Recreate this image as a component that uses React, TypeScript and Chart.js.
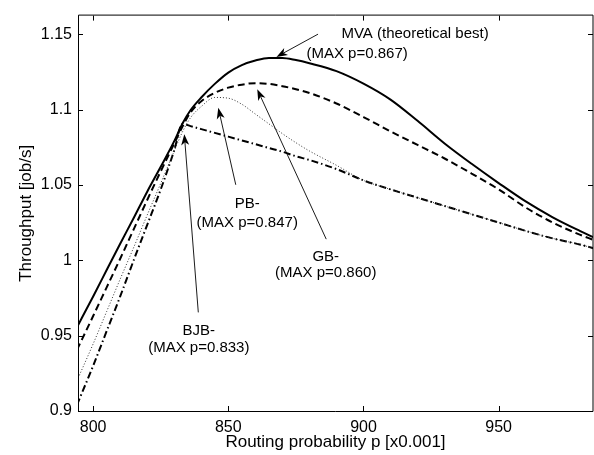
import { useEffect, useRef } from "react";
import { Chart, registerables } from "chart.js";

Chart.register(...registerables);

// ---- data ----
const xValues = [794, 800, 805, 810, 815, 820, 825, 830, 833, 836, 840, 845, 850, 855, 860, 865, 870, 875, 880, 890, 900, 910, 920, 930, 940, 950, 960, 970, 980, 985];
const mvaValues = [0.9555, 0.976, 0.9935, 1.011, 1.028, 1.0455, 1.062, 1.079, 1.0905, 1.0995, 1.108, 1.117, 1.1245, 1.1295, 1.1325, 1.1342, 1.1342, 1.1328, 1.1307, 1.1255, 1.1172, 1.1066, 1.0925, 1.0775, 1.064, 1.0512, 1.039, 1.0285, 1.0195, 1.0153];
const gbValues = [0.9405, 0.963, 0.982, 1.001, 1.0205, 1.04, 1.059, 1.0775, 1.0885, 1.098, 1.1055, 1.111, 1.1145, 1.1165, 1.1175, 1.117, 1.1155, 1.1135, 1.111, 1.104, 1.095, 1.0855, 1.0765, 1.0675, 1.0575, 1.047, 1.035, 1.025, 1.017, 1.0135];
const pbValues = [0.92, 0.9445, 0.966, 0.9875, 1.0085, 1.03, 1.051, 1.0725, 1.085, 1.0945, 1.102, 1.108, 1.1075, 1.1035, 1.097, 1.0905, 1.084, 1.078, 1.0725, 1.063, 1.053, 1.047, 1.0415, 1.036, 1.0305, 1.025, 1.0195, 1.0145, 1.0105, 1.008];
const bjbValues = [0.904, 0.93, 0.953, 0.976, 1.0, 1.0235, 1.047, 1.073, 1.0905, 1.089, 1.087, 1.0845, 1.082, 1.0795, 1.077, 1.0745, 1.072, 1.069, 1.0665, 1.0605, 1.053, 1.047, 1.0415, 1.036, 1.0305, 1.025, 1.0195, 1.0145, 1.0105, 1.008];

const xTicks = [800, 850, 900, 950];
const xTickLabels = ["800", "850", "900", "950"];
const yTicks = [0.9, 0.95, 1.0, 1.05, 1.1, 1.15];
const yTickLabels = ["0.9", "0.95", "1", "1.05", "1.1", "1.15"];

const xTitle = "Routing probability p [x0.001]";
const yTitle = "Throughput [job/s]";

// annotation texts (data coordinates)
const annotationTexts = [
  { text: "MVA (theoretical best)", x: 891.84, y: 1.14722, align: "left" },
  { text: "(MAX p=0.867)", x: 878.9, y: 1.13446, align: "left" },
  { text: "PB-", x: 857.0, y: 1.03439, align: "center" },
  { text: "(MAX p=0.847)", x: 857.0, y: 1.02176, align: "center" },
  { text: "GB-", x: 886.04, y: 0.99974, align: "center" },
  { text: "(MAX p=0.860)", x: 886.04, y: 0.98906, align: "center" },
  { text: "BJB-", x: 839.08, y: 0.95052, align: "center" },
  { text: "(MAX p=0.833)", x: 839.08, y: 0.93886, align: "center" },
];
// arrows: tail -> tip (data coordinates)
const annotationArrows = [
  { x1: 883.19, y1: 1.15, x2: 867.81, y2: 1.13491 },
  { x1: 852.76, y1: 1.05006, x2: 846.29, y2: 1.1011 },
  { x1: 886.22, y1: 1.014, x2: 860.71, y2: 1.1134 },
  { x1: 838.9, y1: 0.96541, x2: 833.72, y2: 1.08361 },
];

const FONT = "'Liberation Sans', Arial, Helvetica, sans-serif";

const framePlugin = {
  id: "frame",
  afterDraw(chart: any) {
    const { ctx, chartArea } = chart;
    const { left, right, top, bottom } = chartArea;
    const xs = chart.scales.x;
    const ys = chart.scales.y;
    ctx.save();
    ctx.strokeStyle = "#000";
    ctx.lineWidth = 1;
    ctx.beginPath();
    ctx.rect(left + 0.5, top - 0.5, right - left - 0.5, bottom - top + 1);
    ctx.stroke();
    const tl = 5;
    ctx.beginPath();
    xTicks.forEach((v) => {
      const px = Math.round(xs.getPixelForValue(v)) + 0.5;
      ctx.moveTo(px, bottom);
      ctx.lineTo(px, bottom - tl);
      ctx.moveTo(px, top);
      ctx.lineTo(px, top + tl);
    });
    yTicks.forEach((v) => {
      const py = Math.round(ys.getPixelForValue(v)) + 0.5;
      ctx.moveTo(left, py);
      ctx.lineTo(left + tl, py);
      ctx.moveTo(right, py);
      ctx.lineTo(right - tl, py);
    });
    ctx.stroke();
    ctx.restore();
  },
};

function drawArrow(ctx: CanvasRenderingContext2D, x1: number, y1: number, x2: number, y2: number) {
  const ang = Math.atan2(y2 - y1, x2 - x1);
  const c = Math.cos(ang);
  const s = Math.sin(ang);
  const L = 11;
  const W = 4;
  const B = 8;
  ctx.beginPath();
  ctx.moveTo(x1, y1);
  ctx.lineTo(x2 - B * c, y2 - B * s);
  ctx.stroke();
  ctx.beginPath();
  ctx.moveTo(x2, y2);
  ctx.lineTo(x2 - L * c + W * s, y2 - L * s - W * c);
  ctx.lineTo(x2 - B * c, y2 - B * s);
  ctx.lineTo(x2 - L * c - W * s, y2 - L * s + W * c);
  ctx.closePath();
  ctx.fill();
}

const annotationPlugin = {
  id: "annots",
  afterDraw(chart: any) {
    const { ctx } = chart;
    const xs = chart.scales.x;
    const ys = chart.scales.y;
    ctx.save();
    ctx.fillStyle = "#000";
    ctx.strokeStyle = "#000";
    ctx.lineWidth = 0.9;
    annotationArrows.forEach((a) => {
      drawArrow(ctx, xs.getPixelForValue(a.x1), ys.getPixelForValue(a.y1), xs.getPixelForValue(a.x2), ys.getPixelForValue(a.y2));
    });
    ctx.font = `15px ${FONT}`;
    ctx.textBaseline = "alphabetic";
    annotationTexts.forEach((t) => {
      ctx.textAlign = t.align as CanvasTextAlign;
      ctx.fillText(t.text, xs.getPixelForValue(t.x), ys.getPixelForValue(t.y));
    });
    ctx.restore();
  },
};

export default function App() {
  const ref = useRef<HTMLCanvasElement | null>(null);
  useEffect(() => {
    if (!ref.current) return;
    const mk = (vals: number[]) => xValues.map((x, i) => ({ x, y: vals[i] }));
    const base = { pointRadius: 0, borderColor: "#000", cubicInterpolationMode: "monotone" as const, fill: false };
    const chart = new Chart(ref.current, {
      type: "line",
      data: {
        datasets: [
          { ...base, label: "MVA", data: mk(mvaValues), borderWidth: 2 },
          { ...base, label: "GB", data: mk(gbValues), borderWidth: 2, borderDash: [7, 4] },
          { ...base, label: "PB", data: mk(pbValues), borderWidth: 1, borderDash: [1, 2], borderColor: "#333" },
          { ...base, label: "BJB", data: mk(bjbValues), borderWidth: 2, borderDash: [7, 3, 1.5, 3] },
        ],
      },
      options: {
        animation: false,
        responsive: false,
        maintainAspectRatio: false,
        layout: { padding: { top: 6, right: 1, left: 0, bottom: 0 } },
        plugins: { legend: { display: false }, tooltip: { enabled: false } },
        scales: {
          x: {
            type: "linear",
            min: 794.4,
            max: 984.9,
            afterBuildTicks: (s: any) => {
              s.ticks = xTicks.map((v) => ({ value: v }));
            },
            afterFit: (s: any) => {
              s.height = 44;
            },
            grid: { display: false, drawTicks: false },
            border: { display: false },
            ticks: {
              color: "#000",
              font: { family: FONT, size: 16 },
              padding: 7,
              maxRotation: 0,
              autoSkip: false,
              callback: (_v: any, i: number) => xTickLabels[i],
            },
            title: { display: true, text: xTitle, color: "#000", font: { family: FONT, size: 17 }, padding: { top: 0, bottom: 2 } },
          },
          y: {
            type: "linear",
            min: 0.9,
            max: 1.1623,
            afterBuildTicks: (s: any) => {
              s.ticks = yTicks.map((v) => ({ value: v }));
            },
            afterFit: (s: any) => {
              s.width = 78;
            },
            grid: { display: false, drawTicks: false },
            border: { display: false },
            ticks: {
              color: "#000",
              font: { family: FONT, size: 16 },
              padding: 6,
              autoSkip: false,
              callback: (_v: any, i: number) => yTickLabels[i],
            },
            title: { display: true, text: yTitle, color: "#000", font: { family: FONT, size: 17 }, padding: { top: 16, bottom: 0 } },
          },
        },
      },
      plugins: [framePlugin, annotationPlugin],
    });
    return () => chart.destroy();
  }, []);
  return (
    <div style={{ position: "fixed", left: 0, top: 0, width: 594, height: 455, background: "#fff" }}>
      <canvas ref={ref} width={594} height={455} style={{ display: "block", width: 594, height: 455 }} />
    </div>
  );
}
